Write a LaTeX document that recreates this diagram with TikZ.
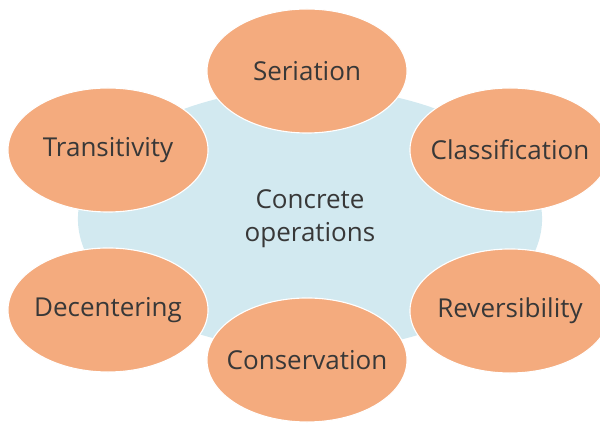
\documentclass[tikz,border=0pt]{standalone}
\usepackage{fontspec}
\setmainfont{Open Sans}
\usepackage{tikz}
\usetikzlibrary{positioning}
\usetikzlibrary{shapes.geometric}
\definecolor{opcol}{HTML}{F4AB7E}
\definecolor{corecol}{HTML}{D2E9F0}
\colorlet{txtcol}{black!78}
\tikzset{
  skill/.style={ellipse, fill=opcol, draw=white, line width=0.8pt,
    minimum width=5cm, minimum height=3.1cm, inner xsep=-0.8cm, inner ysep=0pt,
    text=txtcol, font=\fontsize{18.5}{23.5}\selectfont},
}

\begin{document}
\begin{tikzpicture}[x=0.025cm, y=-0.025cm]
  \clip (0,0) rectangle (600,425);

  % Central stage
  \node[ellipse, fill=corecol, minimum width=11.6cm, minimum height=6.55cm,
    align=center, text=txtcol, font=\fontsize{18.5}{23.5}\selectfont]
    (ops) at (310,219) {Concrete\\operations};

  % The six operations around it
  \node[skill] (ser) at (307,71) {Seriation};
  \node[skill] (tra) at (108,150) {Transitivity};
  \node[skill] (cla) at (510,150) {Classification};
  \node[skill] (dec) at (108,310) {Decentering};
  \node[skill] (rev) at (510,311) {Reversibility};
  \node[skill] (con) at (307,360) {Conservation};

\end{tikzpicture}
\end{document}
